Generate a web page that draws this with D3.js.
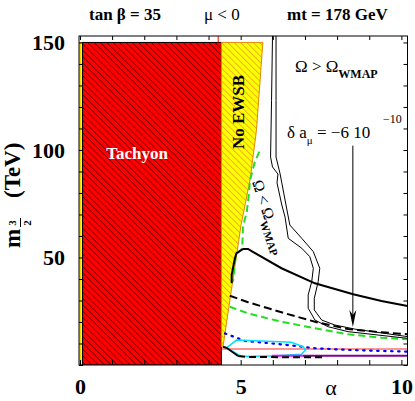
<!DOCTYPE html>
<html>
<head>
<meta charset="utf-8">
<script src="https://cdn.jsdelivr.net/npm/d3@7"></script>
<style>
    body { margin: 0; background: #fff; }
    svg { display: block; font-family: 'Liberation Serif', 'DejaVu Serif', serif; }
    .axis path { display: none; }
    .axis line { stroke: #000; }
    .axis text { font-family: 'Liberation Serif', serif; font-size: 22px; font-weight: bold; fill: #000; }
</style>
</head>
<body>
<svg class="chart" width="415" height="401"></svg>
<script>
// x = alpha, y = m_3/2 (TeV)
const xTicks = [0, 1, 2, 3, 4, 5, 6, 7, 8, 9, 10];
const xLabels = [0, 5, 10];
const yTicks = [0, 10, 20, 30, 40, 50, 60, 70, 80, 90, 100, 110, 120, 130, 140, 150];
const yLabels = [50, 100, 150];

// excluded regions
const edgeStrip = [[0, 0], [0.08, 0], [0.08, 150], [0, 150]];
const tachyon = [[0.08, 0], [4.4, 0], [4.4, 150], [0.08, 150]];
const noEwsb = [[4.4, 150], [5.69, 150], [5.49, 109], [5.29, 86], [5.01, 65], [4.45, 8.5], [4.4, 8.5]];
const redEdge = [[4.3, 150], [4.3, 153]];

// relic density band
const wmapLeft = [[5.99, 153], [5.96, 123], [5.93, 96.7], [5.99, 92.1], [6.16, 88.8], [6.13, 84.7], [6.28, 74.4],
    [6.38, 68.8], [6.48, 58.9], [6.9, 54.3], [7.15, 50.4], [7.26, 45], [7.21, 38.7], [7.1, 32.6], [7.1, 26.4],
    [7.31, 20.9], [7.72, 17.8], [8.34, 15.5], [10.19, 12.4]];
const wmapRight = [[6.1, 153], [6.1, 123], [6.1, 96.7], [6.22, 89.3], [6.28, 84.7], [6.41, 74.4], [6.53, 65.1],
    [6.9, 58.9], [7.26, 52.7], [7.46, 45], [7.41, 38.7], [7.29, 31], [7.29, 25.6], [7.52, 20.9], [7.93, 18.6],
    [8.55, 16.7], [10.19, 13.2]];

// other contours
const blackSolid = [[4.72, 38], [4.72, 41.9], [4.82, 49.6], [4.87, 52], [5.08, 54], [5.23, 54], [5.34, 53],
    [6.27, 45], [7.31, 38], [8.5, 32.9], [9.38, 29.8], [10.19, 27.4]];
const blackDashed = [[4.66, 32.2], [5.23, 29.2], [6.27, 24.5], [7.31, 20.1], [8.34, 16.7], [9.38, 15.2], [10.19, 14.3]];
const greenUpper = [[5.58, 99.2], [5.44, 94.4], [5.29, 86], [5.26, 80], [5.19, 71.2], [5.07, 64.2], [5.05, 54.3],
    [4.85, 51.2], [4.76, 38.6]];
const greenLower = [[4.66, 27.1], [5.23, 24], [6.27, 20.1], [7.31, 17.1], [8.34, 14.3], [9.38, 12.7], [10.19, 12]];
const blueDotted = [[4.51, 14.7], [5.13, 11.2], [6.27, 9.6], [7.31, 7.8], [8.34, 7], [10.19, 6.2]];
const cyanLoop = [[4.56, 8], [4.87, 11.6], [6.58, 10.6], [6.94, 8.5], [7.02, 7], [6.89, 5], [6.06, 4.3],
    [5.03, 3.9], [4.77, 6.2], [4.56, 8]];
const pinkLine = [[4.42, 7.4], [10.19, 7.4]];
const magentaLine = [[5.97, 4.3], [6.93, 4.3]];
const purpleLine = [[6.93, 4.3], [10.19, 4.3]];
const bottomSolid = [[4.45, 8.5], [4.56, 8], [4.92, 4.2]];
const bottomDashed = [[4.92, 4.2], [5.2, 3.7], [7.62, 3.6]];
const arrow = { alpha: 8.49, from: 102, to: 17.7 };

const svg = d3.select('.chart');
const x = d3.scaleLinear().domain([-0.03, 10.19]).range([79, 407.5]);
const y = d3.scaleLinear().domain([0, 153]).range([365, 36]);
const line = d3.line().x((d) => x(d[0])).y((d) => y(d[1]));

const defs = svg.append('defs');

const hatch = (id, fill, stroke, w) => {
    const p = defs.append('pattern')
        .attr('id', id)
        .attr('patternUnits', 'userSpaceOnUse')
        .attr('width', 4.5)
        .attr('height', 4.5)
        .attr('patternTransform', 'rotate(-45)');
    p.append('rect').attr('width', 4.5).attr('height', 4.5).attr('fill', fill);
    p.append('line').attr('x1', 0.5).attr('y1', 0).attr('x2', 0.5).attr('y2', 4.5)
        .attr('stroke', stroke).attr('stroke-width', w);
};
hatch('hatch-red', '#ff0000', '#5a0000', 0.75);
hatch('hatch-yellow', '#ffff00', '#e6a020', 0.8);

defs.append('clipPath').attr('id', 'frame-clip')
    .append('rect')
    .attr('x', x.range()[0]).attr('y', y.range()[1])
    .attr('width', x.range()[1] - x.range()[0])
    .attr('height', y.range()[0] - y.range()[1]);

const plot = svg.append('g').attr('clip-path', 'url(#frame-clip)');

plot.append('path').attr('d', line(edgeStrip) + 'Z')
    .attr('fill', '#ffff00').attr('stroke', '#e08a00').attr('stroke-width', 0.8);
plot.append('path').attr('d', line(tachyon) + 'Z')
    .attr('fill', 'url(#hatch-red)').attr('stroke', '#000').attr('stroke-width', 1);
plot.append('path').attr('d', line(noEwsb) + 'Z')
    .attr('fill', 'url(#hatch-yellow)').attr('stroke', '#e08a00').attr('stroke-width', 1);
plot.append('path').attr('d', line(redEdge)).attr('stroke', '#ff0000').attr('fill', 'none');

const curve = (data, color, width, dash) => {
    plot.append('path')
        .attr('d', line(data))
        .attr('fill', 'none')
        .attr('stroke', color)
        .attr('stroke-width', width)
        .attr('stroke-dasharray', dash || null)
        .attr('stroke-linecap', dash === '1.5 5.5' ? 'round' : 'butt');
};

curve(greenUpper, '#22dd22', 2, '7 4');
curve(greenLower, '#22dd22', 2, '7 4');
curve(blackDashed, '#000', 2, '8 4');
curve(pinkLine, '#ff7070', 1.5);
curve(blueDotted, '#0000ff', 2.2, '1.5 5.5');
curve(cyanLoop, '#00e0ff', 1.5);
curve(magentaLine, '#ff00ff', 1.8);
curve(purpleLine, '#800090', 1.8);
curve(bottomSolid, '#000', 2);
curve(bottomDashed, '#000', 2, '7 4');
curve(wmapLeft, '#000', 1);
curve(wmapRight, '#000', 1);
curve(blackSolid, '#000', 2);

// arrow for delta a_mu
const ax = x(arrow.alpha);
const ayTip = y(arrow.to);
plot.append('line')
    .attr('x1', ax).attr('x2', ax)
    .attr('y1', y(arrow.from)).attr('y2', ayTip - 6)
    .attr('stroke', '#000').attr('stroke-width', 1);
plot.append('path')
    .attr('d', `M${ax},${ayTip} L${ax - 3.5},${ayTip - 17} L${ax},${ayTip - 12} L${ax + 3.5},${ayTip - 17} Z`)
    .attr('fill', '#000');

// axes
svg.append('g').attr('class', 'axis')
    .attr('transform', `translate(0,${y.range()[0]})`)
    .call(d3.axisBottom(x).tickValues(xTicks).tickSize(-5).tickPadding(13)
        .tickFormat((d) => (xLabels.includes(d) ? d : '')));
svg.append('g').attr('class', 'axis')
    .attr('transform', `translate(0,${y.range()[1]})`)
    .call(d3.axisTop(x).tickValues(xTicks).tickSize(-4).tickFormat(''));
svg.append('g').attr('class', 'axis')
    .attr('transform', `translate(${x.range()[0]},0)`)
    .call(d3.axisLeft(y).tickValues(yTicks).tickSize(-4).tickPadding(14)
        .tickFormat((d) => (yLabels.includes(d) ? d : '')));
svg.append('g').attr('class', 'axis')
    .attr('transform', `translate(${x.range()[1]},0)`)
    .call(d3.axisRight(y).tickValues(yTicks).tickSize(-4).tickFormat(''));

svg.append('rect')
    .attr('x', x.range()[0]).attr('y', y.range()[1])
    .attr('width', x.range()[1] - x.range()[0])
    .attr('height', y.range()[0] - y.range()[1])
    .attr('fill', 'none').attr('stroke', '#000').attr('stroke-width', 1);

// header
const header = svg.append('g').attr('font-size', 17);
header.append('text').attr('x', 89).attr('y', 20).attr('font-weight', 'bold').text('tan β = 35');
header.append('text').attr('x', 204).attr('y', 20).text('μ < 0');
header.append('text').attr('x', 287).attr('y', 20).attr('font-weight', 'bold').text('mt = 178 GeV');

// axis titles
svg.append('text').attr('x', 331).attr('y', 395).attr('text-anchor', 'middle')
    .attr('font-size', 22).text('α');

const yTitle = svg.append('g').attr('transform', 'translate(20,248) rotate(-90)')
    .attr('font-weight', 'bold');
yTitle.append('text').attr('x', 0).attr('y', 0).attr('font-size', 23).text('m');
yTitle.append('text').attr('x', 25).attr('y', -4).attr('font-size', 11).attr('text-anchor', 'middle').text('3');
yTitle.append('line').attr('x1', 21).attr('x2', 30).attr('y1', 0.5).attr('y2', 0.5).attr('stroke', '#000');
yTitle.append('text').attr('x', 25).attr('y', 11).attr('font-size', 11).attr('text-anchor', 'middle').text('2');
yTitle.append('text').attr('x', 50).attr('y', 0).attr('font-size', 23).text('(TeV)');

// region labels
svg.append('text').attr('x', 137).attr('y', 159).attr('text-anchor', 'middle')
    .attr('font-size', 17).attr('font-weight', 'bold').attr('fill', '#fff').text('Tachyon');
svg.append('text').attr('transform', 'translate(244,112) rotate(-90)').attr('text-anchor', 'middle')
    .attr('font-size', 17).attr('font-weight', 'bold').text('No EWSB');

const omegaHi = svg.append('text').attr('x', 295).attr('y', 72).attr('font-size', 17);
omegaHi.append('tspan').text('Ω > Ω');
omegaHi.append('tspan').attr('dy', 6).attr('font-size', 12).attr('font-weight', 'bold').text('WMAP');

const omegaLo = svg.append('text').attr('transform', 'translate(252,182) rotate(72)').attr('font-size', 16);
omegaLo.append('tspan').text('Ω < Ω');
omegaLo.append('tspan').attr('dy', 5).attr('font-size', 11).attr('font-weight', 'bold').text('WMAP');

const amu = svg.append('text').attr('x', 287).attr('y', 138).attr('font-size', 17);
amu.append('tspan').text('δ  a');
amu.append('tspan').attr('dy', 6).attr('font-size', 11).text('μ');
amu.append('tspan').attr('dy', -6).text(' = −6 10');
svg.append('text').attr('x', 383).attr('y', 123).attr('font-size', 12).text('−10');
</script>
</body>
</html>
